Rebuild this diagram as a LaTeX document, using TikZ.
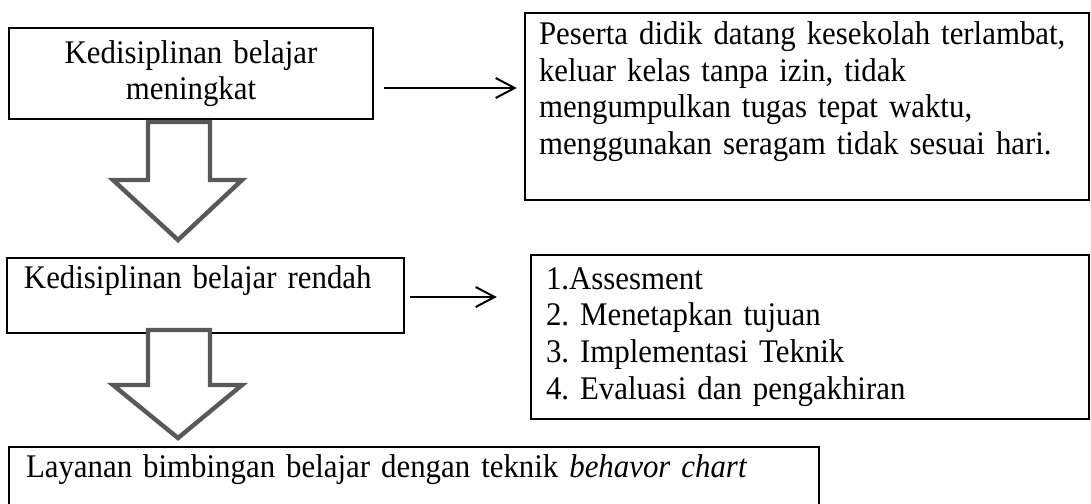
\documentclass[tikz,border=0pt]{standalone}
\usepackage{fontspec}
\setmainfont{Liberation Serif}[FakeStretch=0.935]
\usepackage{tikz}
\usetikzlibrary{arrows.meta}
\definecolor{arrowgray}{HTML}{595959}
\frenchspacing
\hyphenpenalty=10000

\begin{document}
\begin{tikzpicture}[x=0.5pt, y=-0.5pt,
  box/.style = {draw, line width=1.2pt, inner xsep=7pt, inner ysep=0pt,
    font=\fontsize{16.5}{18.35}\selectfont},
  conn/.style = {line width=1pt, -{Straight Barb[length=9.5pt, width=10pt, line width=1pt]}},
  bigarrow/.style = {draw=arrowgray, fill=white, line width=2.2pt, miter limit=10}]
\useasboundingbox (0,0) rectangle (1091,503);
\node[box, minimum width=182pt, minimum height=45.5pt, text width=168pt, align=center] (rise) at (191,73.5) {Kedisiplinan belajar\\meningkat};
\node[box, minimum width=282pt, minimum height=93.5pt, text width=268pt, align=left] (cases) at (807,106.5) {Peserta didik datang kesekolah terlambat,\\keluar kelas tanpa izin, tidak\\mengumpulkan tugas tepat waktu,\\menggunakan seragam tidak sesuai hari.\\\mbox{}};
\node[box, minimum width=196.5pt, minimum height=37.5pt, text width=181.5pt, align=left, inner xsep=8.5pt] (low) at (205.5,295.5) {Kedisiplinan belajar rendah\\\mbox{}};
\node[box, minimum width=279pt, minimum height=82pt, text width=264pt, align=left, inner xsep=7.5pt] (steps) at (810,337) {1.Assesment\\2. Menetapkan tujuan\\3. Implementasi Teknik\\4. Evaluasi dan pengakhiran};
\node[box, minimum width=405pt, minimum height=37.5pt, text width=388pt, align=left, inner xsep=8.5pt] (service) at (414,484.5) {Layanan bimbingan belajar dengan teknik \textit{behavor chart}\\\mbox{}};
\draw[conn, shorten <=5pt, shorten >=3.5pt] ([yshift=-7.25pt]rise.east) -- ([yshift=-7.25pt]rise.east -| cases.west);
\draw[conn, shorten <=2.5pt, shorten >=16.5pt] ([yshift=-0.75pt]low.east) -- ([yshift=-0.75pt]low.east -| steps.west);
\draw[bigarrow] (148,122) -- (210,122) -- (210,180) -- (242,180) -- (178,240) -- (113,180) -- (148,180) -- cycle;
\draw[bigarrow] (148,330) -- (210,330) -- (210,385) -- (242,385) -- (178,438) -- (113,385) -- (148,385) -- cycle;
\end{tikzpicture}
\end{document}
